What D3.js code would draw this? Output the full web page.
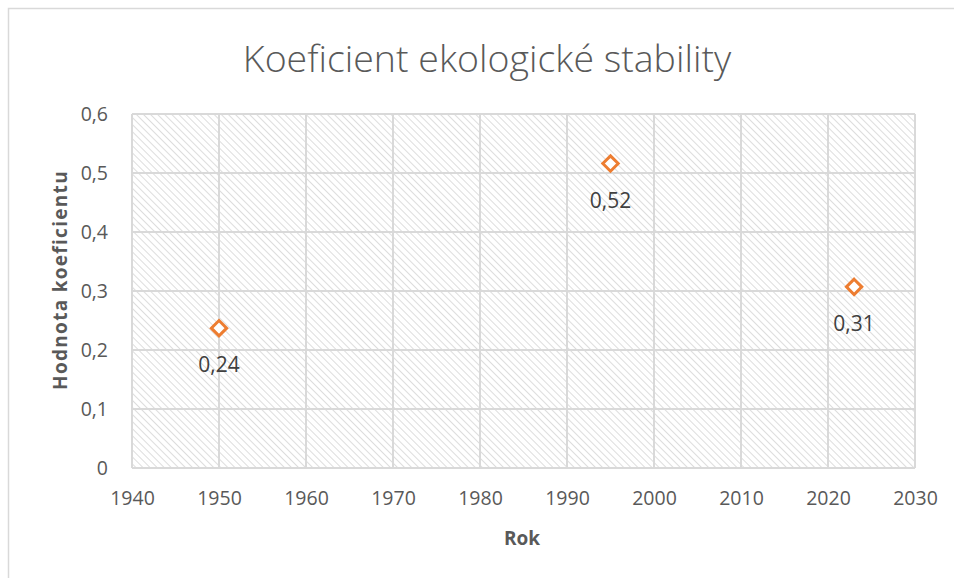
<!DOCTYPE html>
<html>
<head>
<meta charset="utf-8">
<script src="https://cdn.jsdelivr.net/npm/d3@7"></script>
<style>
  body { margin: 0; background: #fff; }
  text { font-family: "Open Sans", "Liberation Sans", sans-serif; }
</style>
</head>
<body>
<svg id="chart" width="954" height="578"></svg>
<script>
const years = [1950, 1995, 2023];
const values = [0.237, 0.516, 0.307];
const xTicks = [1940, 1950, 1960, 1970, 1980, 1990, 2000, 2010, 2020, 2030];
const yTicks = [0, 0.1, 0.2, 0.3, 0.4, 0.5, 0.6];

const svg = d3.select("#chart");
const comma = v => d3.format(".2f")(v).replace(".", ",");
const tickFmt = v => String(v).replace(".", ",");

// outer frame of the chart (right and bottom run off the picture)
svg.append("rect")
    .attr("x", 8.5).attr("y", 8.5)
    .attr("width", 960).attr("height", 600)
    .attr("fill", "#fff")
    .attr("stroke", "#d9d9d9")
    .attr("stroke-width", 1.5);

const x = d3.scaleLinear().domain([1940, 2030]).range([132, 915]);
const y = d3.scaleLinear().domain([0, 0.6]).range([468, 114]);

// hatch fill of the plot area, lines running "\"
const defs = svg.append("defs");
const pat = defs.append("pattern")
    .attr("id", "hatch")
    .attr("patternUnits", "userSpaceOnUse")
    .attr("width", 5).attr("height", 5)
    .attr("patternTransform", "rotate(-45)");
pat.append("line")
    .attr("x1", 0).attr("y1", 0).attr("x2", 0).attr("y2", 5)
    .attr("stroke", "#d4d4d4").attr("stroke-width", 1.6);

svg.append("rect")
    .attr("x", x(1940)).attr("y", y(0.6))
    .attr("width", x(2030) - x(1940))
    .attr("height", y(0) - y(0.6))
    .attr("fill", "url(#hatch)");

// gridlines
const grid = svg.append("g").attr("stroke", "#d9d9d9").attr("stroke-width", 2);
grid.selectAll(".gx").data(xTicks).join("line")
    .attr("x1", d => x(d)).attr("x2", d => x(d))
    .attr("y1", y(0.6)).attr("y2", y(0));
grid.selectAll(".gy").data(yTicks).join("line")
    .attr("x1", x(1940)).attr("x2", x(2030))
    .attr("y1", d => y(d)).attr("y2", d => y(d));

// axes (labels only)
const xAxis = svg.append("g")
    .attr("transform", `translate(0,${y(0)})`)
    .call(d3.axisBottom(x).tickValues(xTicks).tickFormat(d3.format("d")).tickSize(0).tickPadding(23));
const yAxis = svg.append("g")
    .attr("transform", `translate(${x(1940)},0)`)
    .call(d3.axisLeft(y).tickValues(yTicks).tickFormat(tickFmt).tickSize(0).tickPadding(24));
[xAxis, yAxis].forEach(a => {
    a.select(".domain").remove();
    a.selectAll("text")
        .attr("fill", "#595959")
        .style("font-size", "19.5px")
        .style("font-family", "'Open Sans', sans-serif");
});

// title
svg.append("text")
    .attr("x", 487).attr("y", 72)
    .attr("text-anchor", "middle")
    .attr("fill", "#595959")
    .style("font-size", "37.5px")
    .style("font-weight", 300)
    .text("Koeficient ekologické stability");

// axis titles
svg.append("text")
    .attr("x", 522).attr("y", 545)
    .attr("text-anchor", "middle")
    .attr("fill", "#595959")
    .style("font-size", "19px")
    .style("font-weight", "bold")
    .text("Rok");
svg.append("text")
    .attr("transform", `translate(67,${(y(0) + y(0.6)) / 2 - 11}) rotate(-90)`)
    .attr("text-anchor", "middle")
    .attr("fill", "#595959")
    .style("font-size", "19px")
    .style("font-weight", "bold")
    .style("letter-spacing", "1.3px")
    .text("Hodnota koeficientu");

// points
const pts = years.map((yr, i) => ({ year: yr, value: values[i] }));
svg.selectAll(".pt").data(pts).join("path")
    .attr("class", "pt")
    .attr("transform", d => `translate(${x(d.year)},${y(d.value)})`)
    .attr("d", d3.symbol(d3.symbolDiamond2, 150))
    .attr("fill", "#fff")
    .attr("stroke", "#ED7D31")
    .attr("stroke-width", 3);

svg.selectAll(".lbl").data(pts).join("text")
    .attr("class", "lbl")
    .attr("x", d => x(d.year))
    .attr("y", d => y(d.value) + 44)
    .attr("text-anchor", "middle")
    .attr("fill", "#404040")
    .style("font-size", "21px")
    .text(d => comma(d.value));
</script>
</body>
</html>
